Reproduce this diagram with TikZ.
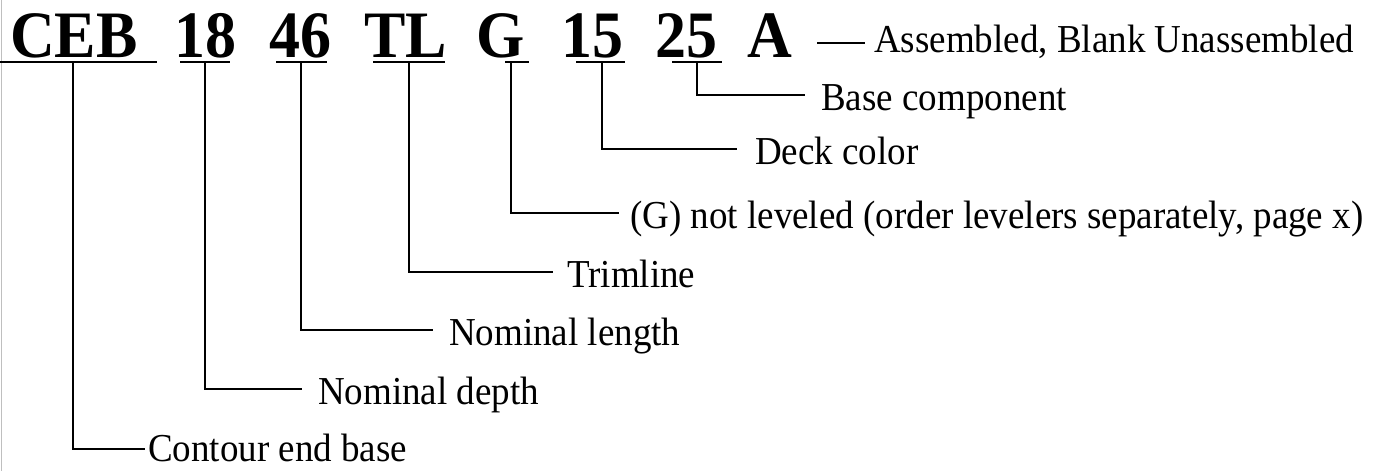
\documentclass[tikz,border=0pt]{standalone}
\usepackage{fontspec}
\setmainfont{Liberation Serif}
\newcommand{\tallcode}[1]{\scalebox{1}[1.07]{#1}}
\begin{document}
\begin{tikzpicture}[x=1pt,y=-1pt,
  code/.style={anchor=base west,inner sep=0pt,font=\bfseries\fontsize{62}{62}\selectfont},
  lbl/.style={anchor=base west,inner sep=0pt,font=\fontsize{37}{40}\selectfont},
  uline/.style={line width=2pt},
  conn/.style={line width=2pt}]
\useasboundingbox (0,0) rectangle (1377,471);
\draw[gray!50,line width=1.5pt] (1.5,0) -- (1.5,471);
% code tokens
\node[code] (ceb) at (10,57) {\tallcode{CEB}};
\node[code] (n18) at (174,57) {\tallcode{18}};
\node[code] (n46) at (269,57) {\tallcode{46}};
\node[code] (tl) at (364,57) {\tallcode{TL}};
\node[code] (g) at (476,57) {\tallcode{G}};
\node[code] (n15) at (561,57) {\tallcode{15}};
\node[code] (n25) at (655,57) {\tallcode{25}};
\node[code] (a) at (747,57) {\tallcode{A}};
% underlines
\draw[uline] (0,62) -- (157,62);
\draw[uline] (180,62) -- (230,62);
\draw[uline] (276,62) -- (327,62);
\draw[uline] (373,62) -- (445,62);
\draw[uline] (505,62) -- (529,62);
\draw[uline] (576,62) -- (625,62);
\draw[uline] (672,62) -- (722,62);
% connector starts
\coordinate (s1) at (73,62);
\coordinate (s2) at (205,62);
\coordinate (s3) at (301,62);
\coordinate (s4) at (409,62);
\coordinate (s5) at (511,62);
\coordinate (s6) at (602,62);
\coordinate (s7) at (697,62);
\coordinate (s8) at (817,43);
% connector ends
\coordinate (e1) at (145,449);
\coordinate (e2) at (302,389);
\coordinate (e3) at (433,330);
\coordinate (e4) at (553,272);
\coordinate (e5) at (619,213);
\coordinate (e6) at (737,149);
\coordinate (e7) at (805,95);
\coordinate (e8) at (865,43);
% labels
\node[lbl] (l1) at (148,461) {\tallcode{Contour end base}};
\node[lbl] (l2) at (318,404) {\tallcode{Nominal depth}};
\node[lbl] (l3) at (449,345) {\tallcode{Nominal length}};
\node[lbl] (l4) at (567,287) {\tallcode{Trimline}};
\node[lbl] (l5) at (630,228) {\tallcode{(G) not leveled (order levelers separately, page x)}};
\node[lbl] (l6) at (755,164) {\tallcode{Deck color}};
\node[lbl] (l7) at (821,110) {\tallcode{Base component}};
\node[lbl] (l8) at (874,52) {\tallcode{Assembled, Blank Unassembled}};
% connectors
\draw[conn] (s1) |- (e1);
\draw[conn] (s2) |- (e2);
\draw[conn] (s3) |- (e3);
\draw[conn] (s4) |- (e4);
\draw[conn] (s5) |- (e5);
\draw[conn] (s6) |- (e6);
\draw[conn] (s7) |- (e7);
\draw[conn] (s8) -- (e8);
\end{tikzpicture}
\end{document}
